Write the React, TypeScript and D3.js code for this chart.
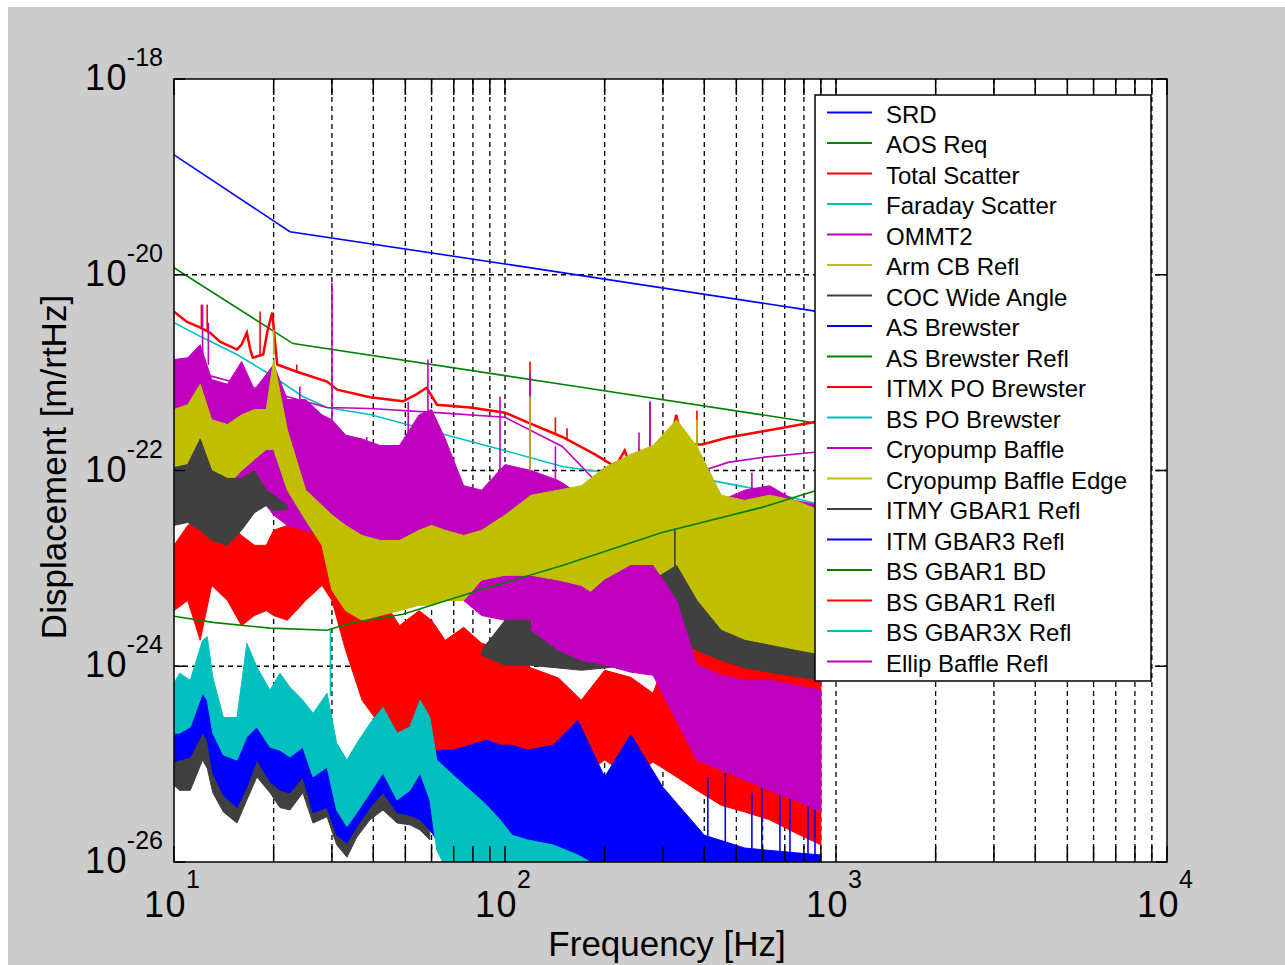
import { useEffect, useRef } from 'react';
import * as d3 from 'd3';

type Pt = [number, number];
type Spike = [number, number, number];
type Row = [number, number | null, number | null];
type Band = { freqs: number[]; hi: (number | null)[]; lo: (number | null)[] };

const WIDTH = 1285;
const HEIGHT = 965;
const FONT = 'Liberation Sans, Arial, Helvetica, sans-serif';

const legendNames = [
  'SRD', 'AOS Req', 'Total Scatter', 'Faraday Scatter', 'OMMT2', 'Arm CB Refl',
  'COC Wide Angle', 'AS Brewster', 'AS Brewster Refl', 'ITMX PO Brewster',
  'BS PO Brewster', 'Cryopump Baffle', 'Cryopump Baffle Edge', 'ITMY GBAR1 Refl',
  'ITM GBAR3 Refl', 'BS GBAR1 BD', 'BS GBAR1 Refl', 'BS GBAR3X Refl', 'Ellip Baffle Refl',
];
// matlab default line colour cycle
const matlabColors = ['#0000ff', '#008000', '#ff0000', '#00bfbf', '#bf00bf', '#bfbf00', '#404040'];

const xDecades = [10, 100, 1000, 10000];
const xExps = ['1', '2', '3', '4'];
const yTicks = [1e-18, 1e-20, 1e-22, 1e-24, 1e-26];
const yExps = ['-18', '-20', '-22', '-24', '-26'];
const yGrid = [1e-20, 1e-22, 1e-24];

// smooth curves, [Hz, m/rtHz]
const srd: Pt[] = [[10, 1.68e-19], [22.4, 2.75e-20], [100, 1.29e-20], [846, 4.3e-21], [1000, 3.8e-21]];
const aosReq: Pt[] = [[10, 1.18e-20], [22.9, 1.98e-21], [157, 7.4e-22], [794, 3.2e-22], [1000, 2.8e-22]];
const totalScatter: Pt[] = [
  [10, 4.2e-21], [10.95, 3.3e-21], [11.98, 2.9e-21], [12.85, 2.56e-21], [13.77, 2.07e-21],
  [15.5, 1.72e-21], [16.0, 1.93e-21], [16.6, 2.56e-21], [17.0, 1.72e-21], [17.3, 1.42e-21],
  [18.6, 1.53e-21], [19.2, 2.75e-21], [19.8, 4.1e-21], [20.5, 1.21e-21], [23.5, 1.02e-21],
  [29.0, 8.1e-22], [31.1, 6.7e-22], [39.1, 5.6e-22], [49.2, 5.1e-22], [54, 6.0e-22],
  [58, 7.0e-22], [62.3, 4.7e-22], [78.4, 4.4e-22], [94.6, 4.0e-22], [100, 3.9e-22],
  [117, 3.1e-22], [149, 2.2e-22], [187, 1.46e-22], [210, 1.15e-22], [220, 1.23e-22],
  [230, 1.6e-22], [240, 1.07e-22], [255, 1.6e-22], [270, 1.3e-22], [298, 1.53e-22],
  [320, 2.3e-22], [329, 3.7e-22], [340, 2.3e-22], [357, 1.84e-22], [394, 1.84e-22],
  [472, 2.17e-22], [597, 2.5e-22], [846, 3.1e-22], [1000, 3.5e-22],
];
const faradayScatter: Pt[] = [
  [10, 3.24e-21], [12.2, 2.28e-21], [15.5, 1.53e-21], [19.5, 9.56e-22], [24.5, 5.7e-22],
  [29.0, 4.4e-22], [39.1, 3.73e-22], [62.3, 2.45e-22], [94.6, 1.68e-22], [149, 1.1e-22],
  [298, 7.9e-23], [375, 8.5e-23], [597, 6.3e-23], [846, 4.7e-23], [1000, 4.1e-23],
];
const ommt2: Pt[] = [
  [12.4, 9.6e-22], [29.0, 4.4e-22], [39.1, 4.3e-22], [62.3, 3.9e-22], [100, 3.5e-22],
  [149, 1.76e-22], [187, 7.9e-23], [219, 4.1e-23], [343, 8.5e-23], [472, 1.21e-22],
  [597, 1.36e-22], [846, 1.53e-22], [1000, 1.6e-22],
];
const bsGbar1Bd: Pt[] = [
  [10, 3.24e-24], [13.1, 2.81e-24], [19.5, 2.45e-24], [29.0, 2.33e-24], [34.0, 2.75e-24],
  [49.2, 3.4e-24], [84.0, 6.0e-24], [149, 1.07e-23], [298, 2.33e-23], [597, 4.2e-23],
  [852, 6.1e-23], [1000, 7.0e-23],
];

// noisy spectra, read as upper / lower envelopes (null = hidden behind other traces)
const upperFreqs = [
  10, 11, 12, 13, 14.5, 16, 17.5, 19, 20, 22, 25, 28, 30, 33, 37, 42, 48, 55, 60, 66,
  75, 85, 100, 120, 145, 170, 200, 240, 280, 330, 380, 450, 530, 630, 750, 900,
];
const cryoHi = [
  1.36e-21, 1.42e-21, 1.93e-21, 8.5e-22, 7.6e-22, 1.3e-21, 6.7e-22, 9.6e-22, 1.21e-21, 5.3e-22,
  5.3e-22, 3.7e-22, 3.3e-22, 2.3e-22, 2.1e-22, 1.8e-22, 1.8e-22, 3.7e-22, 4.2e-22, 2.1e-22,
  7.0e-23, 6.3e-23, 1.15e-22, 1.0e-22, 7.9e-23, 5.6e-23, 7.0e-23, 1.46e-22, 1.64e-22, 2.95e-22,
  1.0e-22, 4.95e-23, 6.3e-23, 7.0e-23, 4.95e-23, 4.4e-23,
];
const cryoLo = [
  1.0e-22, 1.0e-22, 7.9e-23, 6.3e-23, 4.95e-23, 4.95e-23, 5.6e-23, 4.4e-23, 3.5e-23, 2.75e-23,
  2.45e-23, 2.17e-23, 1.93e-23, 1.36e-23, 1.53e-23, 1.53e-23, 1.36e-23, 1.07e-23, 9.6e-24, 6.7e-24,
  4.7e-24, 3.3e-24, 2.95e-24, 2.33e-24, 1.84e-24, 1.46e-24, 1.46e-24, 1.46e-24, 1.3e-24, 1.84e-24,
  1.64e-24, 1.3e-24, 1.15e-24, 1.03e-24, 9.1e-25, 7.2e-25,
];
const edgeHi = [
  4.2e-22, 4.7e-22, 7.6e-22, 3.3e-22, 2.95e-22, 3.7e-22, 4.2e-22, 4.2e-22, 1.36e-21, 2.6e-22,
  6.3e-23, 4.4e-23, 3.5e-23, 2.75e-23, 2.17e-23, 1.93e-23, 1.93e-23, 2.45e-23, 2.75e-23, 2.45e-23,
  2.17e-23, 2.45e-23, 3.5e-23, 5.6e-23, 6.3e-23, 7.0e-23, 1.07e-22, 1.46e-22, 1.8e-22, 3.3e-22,
  1.76e-22, 5.6e-23, 4.95e-23, 5.6e-23, 4.95e-23, 3.9e-23,
];
const edgeLo = [
  7.9e-23, 8.9e-23, 1.84e-22, 1.0e-22, 7.0e-23, 1.0e-22, 1.3e-22, 1.64e-22, 1.64e-22, 6.3e-23,
  3.1e-23, 1.72e-23, 5.98e-24, 3.7e-24, 2.95e-24, 3.3e-24, 3.7e-24, 4.2e-24, 4.2e-24, 4.7e-24,
  4.7e-24, 7.6e-24, 8.5e-24, 8.5e-24, 7.6e-24, 6.7e-24, 4.7e-24, 6.0e-24, 5.3e-24, 3.7e-24,
  2.6e-24, 1.64e-24, 1.46e-24, 1.46e-24, 1.21e-24, 9.1e-25,
];
const itmyHi = [
  1.07e-22, 1.15e-22, 2.1e-22, 1.0e-22, 8.3e-23, 8.3e-23, 1.0e-22, 6.3e-23, 5.6e-23, 4.4e-23,
  null, null, null, null, null, null, null, null, null, null,
  null, 1.46e-24, 2.95e-24, 2.95e-24, 3.3e-24, 3.3e-24, 4.2e-24, 5.3e-24, 7.6e-24, 1.07e-23,
  4.7e-24, 2.33e-24, 1.84e-24, 1.64e-24, 1.46e-24, 1.3e-24,
];
const itmyLo = [
  2.75e-23, 2.95e-23, 2.45e-23, 1.93e-23, 1.72e-23, 2.45e-23, 3.7e-23, 4.4e-23, 3.9e-23, 4.0e-23,
  null, null, null, null, null, null, null, null, null, null,
  null, 1.3e-24, 1.02e-24, 1.02e-24, 9.6e-25, 9.1e-25, 9.6e-25, 1.03e-24, 1.46e-24, 1.84e-24,
  1.46e-24, 1.15e-24, 9.6e-25, 8.7e-25, 7.9e-25, 7.2e-25,
];
const itmxHi = [
  1.72e-23, 2.75e-23, 3.1e-23, 3.9e-23, 3.1e-23, 2.17e-23, 1.72e-23, 1.72e-23, 2.45e-23, 2.75e-23,
  3.7e-23, 4.4e-23, 3.9e-23, 1.72e-23, 8.5e-24, 5.3e-24, 2.6e-24, 3.7e-24, 2.95e-24, 1.84e-24,
  2.5e-24, 1.72e-24, 1.46e-24, 9.6e-25, 7.6e-25, 4.5e-25, 9.1e-25, 7.7e-25, 5.3e-25, 2.33e-24,
  2.6e-24, 1.84e-24, 1.84e-24, 1.46e-24, 1.46e-24, 9.1e-25,
];
const itmxLo = [
  3.7e-24, 4.7e-24, 1.84e-24, 6.7e-24, 4.7e-24, 2.6e-24, 3.3e-24, 3.7e-24, 3.3e-24, 2.95e-24,
  4.7e-24, 6.7e-24, 4.7e-24, 1.46e-24, 4.5e-25, 2.5e-25, 1.76e-25, 2.0e-25, 1.49e-25, 1.1e-25,
  9.3e-26, 1.39e-25, 1.33e-25, 5.4e-26, 5.1e-26, 7.4e-26, 1.1e-25, 7.4e-26, 1.05e-25, 7.4e-26,
  5.4e-26, 3.8e-26, 3.24e-26, 2.7e-26, 2.0e-26, 1.5e-26,
];

const lowerFreqs = [
  10, 10.4, 11.2, 12.2, 12.6, 13.1, 14.1, 15.5, 16.6, 17.8, 19.5, 20.9, 22.4, 24.5, 26.3,
  29, 31, 33.3, 35.7, 39.1, 42.8, 47.2, 51.6, 55.4, 59.3, 62.2, 69.8, 78.4, 88, 96.6,
  105, 117, 140, 166, 200, 240, 300, 400, 530, 700, 900,
];
const itmHi = [
  3.2e-25, 3.4e-25, 4.0e-25, 9.1e-25, 7.2e-25, 3.6e-25, 2.23e-25, 2.0e-25, 3.2e-25, 4.0e-25,
  2.5e-25, 2.23e-25, 2.0e-25, 2.5e-25, 1.39e-25, 1.56e-25, 6.1e-26, 4.3e-26, 5.4e-26, 8.7e-26,
  1.39e-25, 7.7e-26, 9.8e-26, 1.1e-25, 8.7e-26, 1.39e-25, 1.39e-25, 1.56e-25, 1.76e-25, 1.56e-25,
  1.56e-25, 1.39e-25, 1.56e-25, 2.8e-25, 7.4e-26, 2.0e-25, 5.8e-26, 1.88e-26, 1.39e-26, 1.27e-26,
  1.18e-26,
];
const itmLo = [
  1.05e-25, 1.1e-25, 1.18e-25, 2.07e-25, 1.76e-25, 8.1e-26, 4.8e-26, 3.6e-26, 5.8e-26, 1.1e-25,
  6.6e-26, 5.4e-26, 5.1e-26, 7.4e-26, 3.2e-26, 3.6e-26, 1.88e-26, 1.56e-26, 2.3e-26, 3.6e-26,
  5.1e-26, 3.2e-26, 3.0e-26, 2.7e-26, 2.12e-26, 1.68e-26, 1.33e-26, 1.05e-26, 6e-27, 6e-27,
  6e-27, 6e-27, 6e-27, 6e-27, 6e-27, 6e-27, 6e-27, 6e-27, 6e-27, 6e-27,
  6e-27,
];
const gbar3xFreqs = [
  10, 10.4, 11.2, 12.2, 12.6, 13.1, 14.1, 15.5, 16.6, 17.8, 19.5, 20.9, 22.4, 24.5, 26.3,
  29, 31, 33.3, 35.7, 39.1, 42.8, 47.2, 51.6, 55.4, 59.3, 62.2, 69.8, 78.4, 88, 96.6,
  105, 117, 140, 166, 200,
];
const gbar3xHi = [
  6.7e-25, 8.5e-25, 7.2e-25, 1.84e-24, 2.0e-24, 7.7e-25, 3.0e-25, 3.0e-25, 1.72e-24, 9.8e-25,
  5.7e-25, 8.5e-25, 6.1e-25, 4.5e-25, 3.3e-25, 5.3e-25, 1.64e-25, 1.1e-25, 1.64e-25, 2.6e-25,
  3.8e-25, 2.07e-25, 2.4e-25, 4.5e-25, 3.0e-25, 1.1e-25, 7.7e-26, 5.4e-26, 3.8e-26, 2.7e-26,
  1.88e-26, 1.68e-26, 1.49e-26, 1.18e-26, 8.3e-27,
];
const gbar3xLo = [
  2.07e-25, 2.07e-25, 2.4e-25, 5.3e-25, 4.5e-25, 2.07e-25, 1.24e-25, 1.1e-25, 1.9e-25, 2.4e-25,
  1.49e-25, 1.39e-25, 1.18e-25, 1.49e-25, 7.4e-26, 9.3e-26, 3.4e-26, 2.3e-26, 3.2e-26, 5.1e-26,
  8.1e-26, 4.3e-26, 5.4e-26, 8.1e-26, 4.3e-26, 1.33e-26, 6e-27, 6e-27, 6e-27, 6e-27,
  6e-27, 6e-27, 6e-27, 6e-27, 6e-27,
];
const cocFreqs = [
  10, 10.4, 11.2, 12.2, 12.6, 13.1, 14.1, 15.5, 16.6, 17.8, 19.5, 20.9, 22.4, 24.5, 26.3,
  29, 31, 33.3, 35.7, 39.1, 42.8, 47.2, 51.6, 55.4, 59.3,
];
const cocHi = [
  1.88e-25, 1.95e-25, 2.12e-25, 3.73e-25, 3.2e-25, 1.46e-25, 8.7e-26, 6.6e-26, 1.05e-25, 1.95e-25,
  1.24e-25, 9.8e-26, 9.1e-26, 1.33e-25, 5.7e-26, 6.6e-26, 3.4e-26, 2.8e-26, 4.1e-26, 6.6e-26,
  9.1e-26, 5.7e-26, 5.4e-26, 4.8e-26, 3.8e-26,
];
const cocLo = [
  6.1e-26, 5.4e-26, 5.4e-26, 1.1e-25, 9.1e-26, 5.1e-26, 3.24e-26, 2.5e-26, 4.3e-26, 7.4e-26,
  5.1e-26, 3.6e-26, 3.4e-26, 5.1e-26, 2.5e-26, 2.9e-26, 1.5e-26, 1.12e-26, 1.8e-26, 2.7e-26,
  3.4e-26, 2.5e-26, 2.4e-26, 2.12e-26, 1.68e-26,
];
const ellipFreqs = [120, 145, 170, 200, 240, 280, 330, 380, 450, 530, 630, 750, 900];
const ellipHi = [2.95e-24, 4.2e-24, 4.7e-24, 7.6e-24, 1.07e-23, 1.07e-23, 4.7e-24, 1.03e-24, 8.1e-25, 7.2e-25, 7.2e-25, 6.4e-25, 5.7e-25];
const ellipLo = [2.33e-24, 1.46e-24, 1.15e-24, 1.03e-24, 8.7e-25, 8.1e-25, 2.8e-25, 1.1e-25, 8.7e-26, 6.9e-26, 5.4e-26, 4.3e-26, 3.24e-26];

// narrow lines (mains harmonics etc.): [Hz, top, bottom]
const totalSpikes: Spike[] = [
  [12.1, 4.95e-21, 2.9e-21], [12.6, 4.95e-21, 2.6e-21], [18.2, 4.2e-21, 1.5e-21], [23.5, 1.21e-21, 1.0e-21],
  [119, 1.3e-21, 3.1e-22], [142, 3.5e-22, 2.3e-22], [154, 2.7e-22, 2.1e-22], [274, 5.1e-22, 1.3e-22],
  [380, 4.1e-22, 1.84e-22],
];
const cryoSpikes: Spike[] = [
  [12.2, 4.95e-21, 1.5e-21], [12.7, 3.24e-21, 1.2e-21], [24, 7.2e-22, 4e-22], [30, 8.3e-21, 3e-22],
  [38.2, 2.2e-22, 1e-22], [51, 5.0e-22, 1.5e-22], [58.5, 1.36e-21, 4e-22], [96.6, 5.7e-22, 1e-22],
  [119, 9.6e-22, 1e-22], [142, 1.76e-22, 8e-23], [200, 1.1e-22, 5e-23], [254, 2.45e-22, 1e-22],
  [274, 4.95e-22, 1.2e-22], [557, 9.5e-23, 4e-23], [700, 6.0e-23, 3e-23],
];
const edgeSpikes: Spike[] = [[20, 2.75e-21, 1.5e-21], [119, 5.7e-22, 1e-22], [380, 3.3e-22, 1.5e-22]];
const itmySpikes: Spike[] = [[326, 2.56e-23, 8e-24]];
const gbar3xSpikes: Spike[] = [[29.7, 2.33e-24, 5e-25]];
const itmSpikes: Spike[] = [
  [410, 7.4e-26, 6e-27], [463, 8.1e-26, 6e-27], [557, 5.1e-26, 6e-27], [597, 5.8e-26, 6e-27],
  [677, 8.1e-26, 6e-27], [726, 5.1e-26, 6e-27], [823, 4.3e-26, 6e-27], [864, 4.0e-26, 6e-27],
];

const lines: Record<string, Pt[]> = {
  'SRD': srd,
  'AOS Req': aosReq,
  'Total Scatter': totalScatter,
  'Faraday Scatter': faradayScatter,
  'OMMT2': ommt2,
  'BS GBAR1 BD': bsGbar1Bd,
};
const bands: Record<string, Band> = {
  'COC Wide Angle': { freqs: cocFreqs, hi: cocHi, lo: cocLo },
  'ITMX PO Brewster': { freqs: upperFreqs, hi: itmxHi, lo: itmxLo },
  'Cryopump Baffle': { freqs: upperFreqs, hi: cryoHi, lo: cryoLo },
  'Cryopump Baffle Edge': { freqs: upperFreqs, hi: edgeHi, lo: edgeLo },
  'ITMY GBAR1 Refl': { freqs: upperFreqs, hi: itmyHi, lo: itmyLo },
  'ITM GBAR3 Refl': { freqs: lowerFreqs, hi: itmHi, lo: itmLo },
  'BS GBAR3X Refl': { freqs: gbar3xFreqs, hi: gbar3xHi, lo: gbar3xLo },
  'Ellip Baffle Refl': { freqs: ellipFreqs, hi: ellipHi, lo: ellipLo },
};
const spikes: Record<string, Spike[]> = {
  'Total Scatter': totalSpikes,
  'Cryopump Baffle': cryoSpikes,
  'Cryopump Baffle Edge': edgeSpikes,
  'ITMY GBAR1 Refl': itmySpikes,
  'BS GBAR3X Refl': gbar3xSpikes,
  'ITM GBAR3 Refl': itmSpikes,
};

export default function App() {
  const svgRef = useRef<SVGSVGElement>(null);

  useEffect(() => {
    const m = { left: 174, right: 1167, top: 79, bottom: 862 };
    const x = d3.scaleLog().domain([10, 1e4]).range([m.left, m.right]);
    const y = d3.scaleLog().domain([1e-26, 1e-18]).range([m.bottom, m.top]);

    const svg = d3.select(svgRef.current);
    svg.selectAll('*').remove();

    // figure + axes background
    svg.append('rect').attr('x', 8).attr('y', 7).attr('width', WIDTH - 8).attr('height', HEIGHT - 7).attr('fill', '#cccccc');
    svg.append('rect').attr('x', m.left).attr('y', m.top)
      .attr('width', m.right - m.left).attr('height', m.bottom - m.top).attr('fill', '#ffffff');

    // dashed grid
    const xTickVals = x.ticks();
    const grid = svg.append('g').attr('stroke', '#000').attr('stroke-width', 1.3).attr('stroke-dasharray', '5,4');
    xTickVals.filter(v => v > 10 && v < 1e4).forEach(v => {
      grid.append('line').attr('x1', x(v)).attr('x2', x(v)).attr('y1', m.top).attr('y2', m.bottom);
    });
    yGrid.forEach(v => {
      grid.append('line').attr('x1', m.left).attr('x2', m.right).attr('y1', y(v)).attr('y2', y(v));
    });

    svg.append('defs').append('clipPath').attr('id', 'plot-clip').append('rect')
      .attr('x', m.left).attr('y', m.top).attr('width', m.right - m.left).attr('height', m.bottom - m.top);
    const g = svg.append('g').attr('clip-path', 'url(#plot-clip)');

    const lineGen = d3.line<Pt>().x(d => x(d[0])).y(d => y(d[1]));
    const areaGen = d3.area<Row>()
      .defined(d => d[1] != null && d[2] != null)
      .x(d => x(d[0])).y0(d => y(d[2] as number)).y1(d => y(d[1] as number));

    // draw in legend order so later series sit on top, as in the original
    legendNames.forEach((name, i) => {
      const color = matlabColors[i % matlabColors.length];
      const band = bands[name];
      if (band) {
        const rows: Row[] = band.freqs.map((f, k) => [f, band.hi[k], band.lo[k]]);
        g.append('path').attr('d', areaGen(rows))
          .attr('fill', color).attr('stroke', color).attr('stroke-width', 1);
      }
      const ln = lines[name];
      if (ln) {
        g.append('path').attr('d', lineGen(ln)).attr('fill', 'none')
          .attr('stroke', color).attr('stroke-width', name === 'Total Scatter' ? 2.5 : 1.6);
      }
      (spikes[name] || []).forEach(([f, top, base]) => {
        g.append('line').attr('x1', x(f)).attr('x2', x(f)).attr('y1', y(top)).attr('y2', y(base))
          .attr('stroke', color).attr('stroke-width', 1.6);
      });
    });

    // axes box and ticks
    const axes = svg.append('g').attr('stroke', '#000').attr('stroke-width', 1.5);
    axes.append('rect').attr('x', m.left).attr('y', m.top)
      .attr('width', m.right - m.left).attr('height', m.bottom - m.top).attr('fill', 'none');
    xTickVals.forEach(v => {
      axes.append('line').attr('x1', x(v)).attr('x2', x(v)).attr('y1', m.bottom).attr('y2', m.bottom - 16);
      axes.append('line').attr('x1', x(v)).attr('x2', x(v)).attr('y1', m.top).attr('y2', m.top + 16);
    });
    yTicks.forEach(v => {
      axes.append('line').attr('x1', m.left).attr('x2', m.left + 11).attr('y1', y(v)).attr('y2', y(v));
      axes.append('line').attr('x1', m.right).attr('x2', m.right - 11).attr('y1', y(v)).attr('y2', y(v));
    });

    const labels = svg.append('g').attr('font-family', FONT).attr('fill', '#000');
    xDecades.forEach((v, i) => {
      labels.append('text').attr('x', x(v) + 13).attr('y', 917).attr('text-anchor', 'end')
        .attr('font-size', 36).attr('letter-spacing', 1.5).text('10');
      labels.append('text').attr('x', x(v) + 12).attr('y', 888).attr('font-size', 25).text(xExps[i]);
    });
    yTicks.forEach((v, i) => {
      labels.append('text').attr('x', 128).attr('y', y(v) + 11).attr('text-anchor', 'end')
        .attr('font-size', 36).attr('letter-spacing', 1.5).text('10');
      labels.append('text').attr('x', 163).attr('y', y(v) - 13).attr('text-anchor', 'end')
        .attr('font-size', 25).text(yExps[i]);
    });
    labels.append('text').attr('x', 667).attr('y', 956).attr('text-anchor', 'middle')
      .attr('font-size', 35).text('Frequency [Hz]');
    labels.append('text').attr('transform', 'translate(66,467) rotate(-90)').attr('text-anchor', 'middle')
      .attr('font-size', 35).text('Displacement [m/rtHz]');

    // legend
    const legend = svg.append('g');
    legend.append('rect').attr('x', 815).attr('y', 95).attr('width', 336).attr('height', 586)
      .attr('fill', '#fff').attr('stroke', '#000').attr('stroke-width', 1.5);
    legendNames.forEach((name, i) => {
      const ry = 112.5 + i * 30.5;
      legend.append('line').attr('x1', 827).attr('x2', 872).attr('y1', ry).attr('y2', ry)
        .attr('stroke', matlabColors[i % matlabColors.length]).attr('stroke-width', 2);
      legend.append('text').attr('x', 886).attr('y', ry + 10).attr('font-family', FONT)
        .attr('font-size', 24).attr('fill', '#000').text(name);
    });
  }, []);

  return (
    <svg ref={svgRef} width={WIDTH} height={HEIGHT}
      style={{ position: 'absolute', left: 0, top: 0, display: 'block' }} />
  );
}
